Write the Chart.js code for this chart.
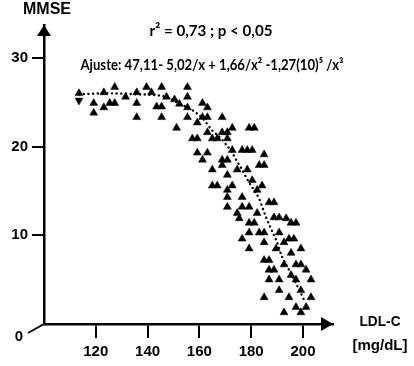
<!DOCTYPE html>
<html><head><meta charset="utf-8">
<script src="https://cdn.jsdelivr.net/npm/chart.js@4"></script>
<style>html,body{margin:0;padding:0;background:#fff}#wrap{width:414px;height:366px}</style>
</head><body><div id="wrap"><canvas id="c" width="414" height="366"></canvas></div>
<script>
const ldl = [113.5,119.2,119.2,123.1,123.1,125.4,127.3,127.3,131.5,135.8,135.8,135.8,139.6,141.5,143.5,145.4,145.4,145.4,147.3,150.4,152.3,151.2,155.4,155.4,155.4,155.4,161.2,163.1,161.2,163.1,159.2,168.8,157.3,159.2,163.1,165.0,166.9,168.8,170.8,170.8,172.7,179.2,181.2,159.2,163.1,161.2,168.8,170.8,168.8,172.7,176.5,178.5,180.4,185.0,183.1,185.0,165.0,170.8,174.6,178.5,165.0,166.9,170.8,172.7,170.8,176.5,180.4,182.3,184.2,176.5,174.6,170.8,179.2,182.3,186.9,188.8,188.8,190.8,193.5,175.4,195.4,197.3,179.2,181.2,179.2,183.1,185.0,190.8,176.5,185.0,194.6,196.5,179.2,189.6,192.7,199.2,195.4,185.0,186.9,192.7,197.3,199.2,201.2,186.9,188.8,195.4,186.9,190.8,197.3,203.1,190.8,185.0,194.6,199.2,203.1,192.7,197.3,199.2,201.2];
const mmse = [26.0,24.9,23.8,26.1,24.4,24.9,24.9,26.7,25.6,26.1,24.9,23.3,26.7,26.1,24.5,24.5,26.7,23.3,25.6,25.3,24.8,22.1,26.7,25.6,24.4,23.3,24.9,24.4,23.3,23.3,22.7,23.3,20.9,20.9,21.6,20.9,20.9,21.6,21.6,20.9,22.1,22.1,22.1,19.3,19.3,18.5,18.5,18.5,17.9,19.6,19.6,19.6,19.6,19.1,17.9,17.9,17.4,16.8,17.4,17.4,15.6,15.6,15.1,15.6,14.3,14.3,16.2,15.1,15.6,13.2,12.5,13.2,13.2,12.5,13.7,13.7,12.0,12.0,11.9,11.9,11.4,11.4,11.4,11.4,10.3,10.3,10.3,10.3,9.6,9.2,9.6,9.6,8.5,8.5,9.2,8.5,8.0,7.2,7.2,6.7,6.7,6.7,6.1,6.1,6.1,5.5,5.0,5.0,5.0,5.0,3.8,3.0,3.0,3.8,3.0,1.3,1.9,1.3,1.9];
const ldlInv = [113.5];
const mmseInv = [25.2];
const fitLdl = [113.5,125,135,147.3,151.2,157.3,161.2,165.0,167.7,170.4,172.7,174.6,176.5,178.5,180.4,183.1,185.0,185.8,187.7,190.0,191.9,194.6,197.3,199.2,200.4];
const fitMmse = [25.9,26.0,25.9,25.6,25.0,24.1,23.2,21.8,21.1,20.2,19.3,18.3,17.4,16.3,15.4,14.1,12.6,12.0,10.7,9.2,7.6,6.1,4.6,3.5,2.7];
const xTicks = [120,140,160,180,200];
const yTicks = [10,20,30];
const zeroLabel = '0';
const yTitle = 'MMSE';
const xTitle = ['LDL-C','[mg/dL]'];
const statText = 'r\u00B2 = 0,73 ; p < 0,05';
const fitText = 'Ajuste: 47,11- 5,02/x + 1,66/x\u00B2 -1,27(10)\u2075 /x\u00B3';

const FONT = '"Liberation Sans", Arial, sans-serif';

const deco = {
  id: 'deco',
  afterDraw(chart) {
    const {ctx, chartArea: a, scales: {x, y}} = chart;
    const ox = x.left, oy = y.getPixelForValue(0);
    ctx.save();
    ctx.fillStyle = '#000'; ctx.strokeStyle = '#000';
    // y arrow head
    ctx.beginPath(); ctx.moveTo(ox, a.top); ctx.lineTo(ox - 7, a.top + 11); ctx.lineTo(ox + 7, a.top + 11); ctx.closePath(); ctx.fill();
    // x arrow head
    ctx.beginPath(); ctx.moveTo(a.right, oy); ctx.lineTo(a.right - 12, oy - 7); ctx.lineTo(a.right - 12, oy + 7); ctx.closePath(); ctx.fill();
    // axis break line to zero label
    ctx.lineWidth = 2;
    ctx.beginPath(); ctx.moveTo(ox, oy); ctx.lineTo(ox - 16, oy + 9); ctx.stroke();
    ctx.font = 'bold 15px ' + FONT;
    ctx.textAlign = 'center'; ctx.textBaseline = 'middle';
    ctx.fillText(zeroLabel, ox - 25, oy + 13);
    // axis titles
    ctx.font = 'bold 16px ' + FONT;
    ctx.fillText(yTitle, 47, 10, 50);
    ctx.font = 'bold 15px ' + FONT;
    ctx.fillText(xTitle[0], 380, oy - 2, 41);
    ctx.fillText(xTitle[1], 380, oy + 22, 58);
    // annotations
    ctx.font = 'bold 16px Lato, "Open Sans", sans-serif';
    ctx.fillText(statText, 211, 31, 123);
    ctx.font = 'bold 14.5px Lato, "Open Sans", sans-serif';
    ctx.fillText(fitText, 212, 65, 263);
    ctx.restore();
  }
};

const tickFont = {family: FONT, size: 15, weight: 'bold'};

new Chart(document.getElementById('c'), {
  type: 'scatter',
  data: {
    datasets: [
      {
        data: fitLdl.map((v, i) => ({x: v, y: fitMmse[i]})),
        showLine: true, pointRadius: 0, borderColor: '#000', borderWidth: 2.4,
        borderDash: [0.1, 4.6], borderCapStyle: 'round', cubicInterpolationMode: 'monotone', fill: false
      },
      {
        data: ldl.map((v, i) => ({x: v, y: mmse[i]})),
        pointStyle: 'triangle', pointRadius: 4.6, backgroundColor: '#000', borderColor: '#000', borderWidth: 0.5
      },
      {
        data: ldlInv.map((v, i) => ({x: v, y: mmseInv[i]})),
        pointStyle: 'triangle', rotation: 180, pointRadius: 4.6, backgroundColor: '#000', borderColor: '#000', borderWidth: 0.5
      }
    ]
  },
  options: {
    responsive: false, animation: false, devicePixelRatio: 1,
    layout: {padding: {left: 0, top: 25, right: 81, bottom: 0}},
    plugins: {legend: {display: false}, tooltip: {enabled: false}},
    scales: {
      x: {
        type: 'linear', min: 100, max: 211.6,
        afterFit: s => { s.height = 42; },
        afterBuildTicks: s => { s.ticks = xTicks.map(v => ({value: v})); },
        grid: {display: true, drawOnChartArea: false, drawTicks: true, tickLength: 14, color: '#000', lineWidth: 2},
        border: {display: true, color: '#000', width: 2.5},
        ticks: {color: '#000', font: tickFont, padding: 5, maxRotation: 0, autoSkip: false}
      },
      y: {
        type: 'linear', min: 0, max: 33.7,
        afterFit: s => { s.width = 44; },
        afterBuildTicks: s => { s.ticks = yTicks.map(v => ({value: v})); },
        grid: {display: true, drawOnChartArea: false, drawTicks: true, tickLength: 12, color: '#000', lineWidth: 2},
        border: {display: true, color: '#000', width: 2.5},
        ticks: {color: '#000', font: tickFont, padding: 4, autoSkip: false}
      }
    }
  },
  plugins: [deco]
});
</script>
</body></html>
